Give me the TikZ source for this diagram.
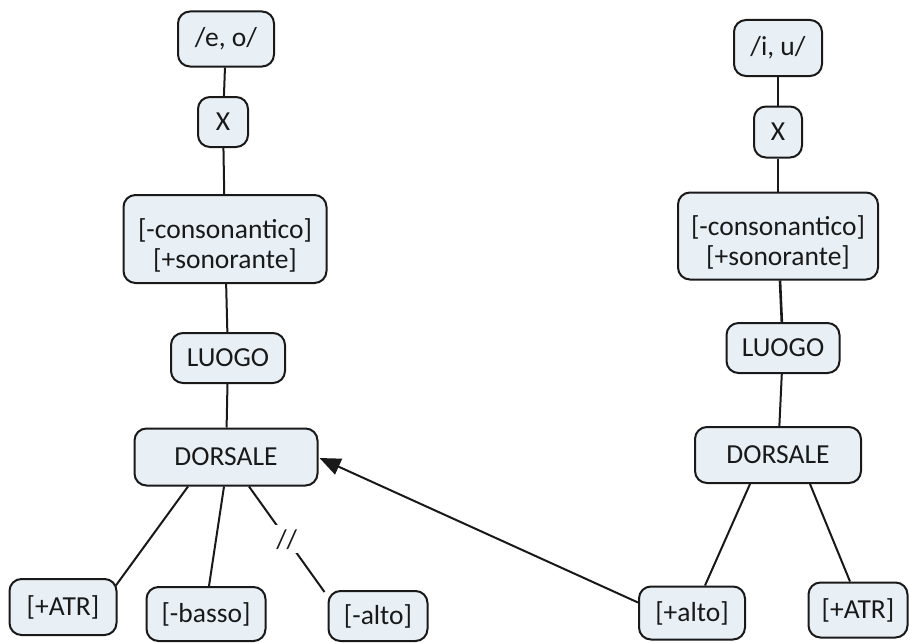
\documentclass[tikz,border=0pt]{standalone}
\usepackage{fontspec}
\setmainfont{Carlito}
\usetikzlibrary{arrows.meta}
\definecolor{boxfill}{RGB}{232,240,246}
\definecolor{ink}{RGB}{25,25,25}
% a taller first line sets two-line labels a little lower in their boxes
\newcommand{\topstrut}{\rule{0pt}{32pt}}
\begin{document}
\begin{tikzpicture}[x=1pt,y=-1pt,
  box/.style={draw=ink, line width=2pt, fill=boxfill, rounded corners=12pt,
    inner sep=0pt, align=center, font=\fontsize{27.5}{30}\selectfont, text=ink},
  link/.style={draw=ink, line width=2pt},
  push/.style={draw=ink, line width=2pt, -{Triangle[length=21pt,width=17pt]}}]
\useasboundingbox (0,0) rectangle (909,642);
\fill[white] (0,0) rectangle (909,642);

% left tree: /e, o/
\node[box, minimum width=96pt, minimum height=55pt] (eo) at (226,39) {/e, o/};
\node[box, minimum width=50pt, minimum height=50pt] (xl) at (223,122) {X};
\node[box, minimum width=203pt, minimum height=88pt] (consl) at (225,239) {\topstrut[-consonantico]\\{}[+sonorante]};
\node[box, minimum width=114pt, minimum height=50pt] (luogol) at (228,358) {LUOGO};
\node[box, minimum width=183pt, minimum height=57pt] (dorsl) at (226,457) {DORSALE};
\node[box, minimum width=107pt, minimum height=56pt] (atrl) at (63,607) {[+ATR]};
\node[box, minimum width=119pt, minimum height=54pt] (basso) at (206,614) {[-basso]};
\node[box, minimum width=99pt, minimum height=50pt] (altoneg) at (378,616) {[-alto]};

% right tree: /i, u/
\node[box, minimum width=88pt, minimum height=56pt] (iu) at (778,48) {/i, u/};
\node[box, minimum width=48pt, minimum height=51pt] (xr) at (778,132) {X};
\node[box, minimum width=200pt, minimum height=87pt] (consr) at (778,236) {\topstrut[-consonantico]\\{}[+sonorante]};
\node[box, minimum width=113pt, minimum height=50pt] (luogor) at (783,348) {LUOGO};
\node[box, minimum width=166pt, minimum height=56pt] (dorsr) at (778,455) {DORSALE};
\node[box, minimum width=106pt, minimum height=53pt] (altopos) at (692,613) {[+alto]};
\node[box, minimum width=99pt, minimum height=55pt] (atrr) at (858,610) {[+ATR]};

% vertical spines
\draw[link] (eo) -- (xl);
\draw[link] (xl) -- (consl);
\draw[link] (consl) -- (luogol);
\draw[link] (luogol) -- (dorsl);
\draw[link] (iu) -- (xr);
\draw[link] (xr) -- (consr);
\draw[link, line width=2.6pt] (consr) -- (luogor);
\draw[link] (luogor) -- (dorsr);

% branches under the left DORSALE
\draw[link] ([xshift=-38pt]dorsl.south) -- ([xshift=-2pt,yshift=-8pt]atrl.north east);
\draw[link] ([xshift=-2pt]dorsl.south) -- ([xshift=3pt]basso.north);
\draw[link] ([xshift=23pt]dorsl.south) -- ([xshift=-3pt,yshift=-2pt]altoneg.north west)
  node[pos=0.5, fill=white, inner sep=4pt, font=\fontsize{27}{30}\selectfont, text=ink] (cut) {//};

% branches under the right DORSALE
\draw[link] ([xshift=-28pt]dorsr.south) -- ([xshift=13pt]altopos.north);
\draw[link] ([xshift=32pt]dorsr.south) -- ([xshift=-8pt]atrr.north);

% spreading arrow
\draw[push] ([yshift=-17pt]altopos.north west) -- ([xshift=1pt,yshift=-1pt]dorsl.east);
\end{tikzpicture}
\end{document}
